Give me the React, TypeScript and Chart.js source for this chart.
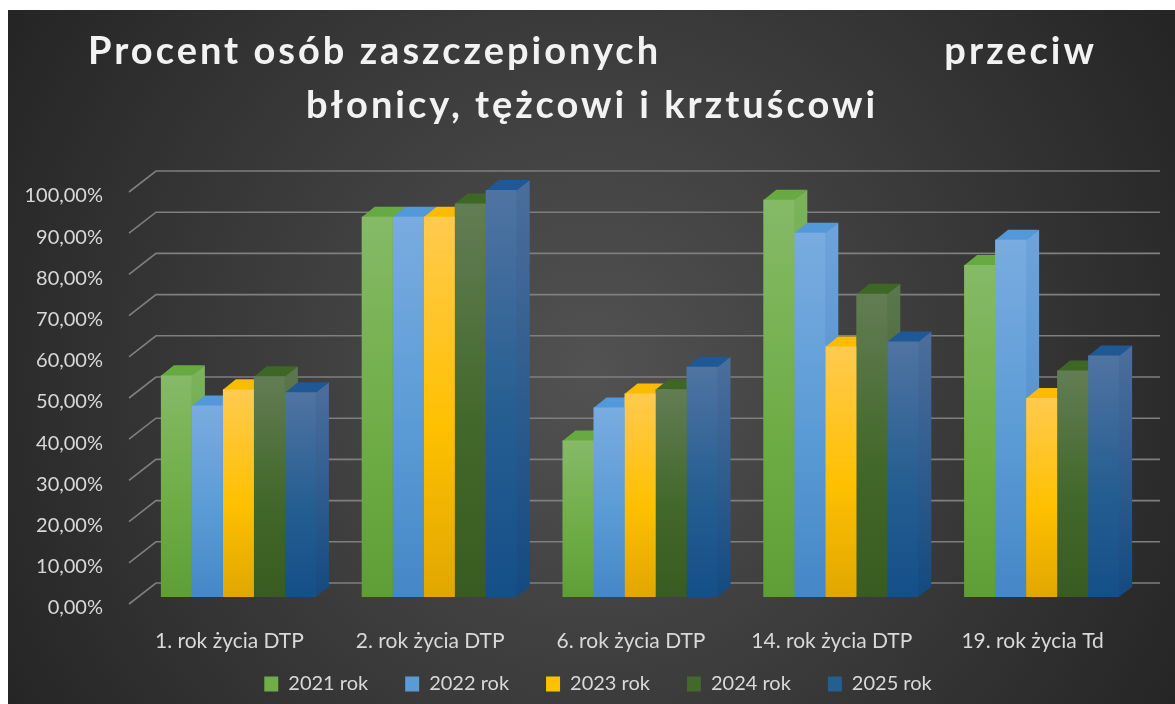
import React, { useEffect, useRef } from "react";
import { Chart, registerables } from "chart.js";

Chart.register(...registerables);

// ---------- data ----------
const categories = [
  "1. rok życia DTP",
  "2. rok życia DTP",
  "6. rok życia DTP",
  "14. rok życia DTP",
  "19. rok życia Td",
];
const seriesNames = ["2021 rok", "2022 rok", "2023 rok", "2024 rok", "2025 rok"];
const values2021 = [53.8, 92.3, 38.0, 96.4, 80.6];
const values2022 = [46.5, 92.3, 46.0, 88.4, 86.7];
const values2023 = [50.4, 92.3, 49.4, 60.8, 48.3];
const values2024 = [53.6, 95.5, 50.4, 73.6, 55.0];
const values2025 = [49.7, 98.8, 55.9, 62.0, 58.6];
const yTickLabels = [
  "0,00%", "10,00%", "20,00%", "30,00%", "40,00%", "50,00%",
  "60,00%", "70,00%", "80,00%", "90,00%", "100,00%",
];
const titleLine1Left = "Procent osób zaszczepionych";
const titleLine1Right = "przeciw";
const titleLine2 = "błonicy, tężcowi i krztuścowi";

// ---------- styles ----------
const seriesStyles = [
  { light: "#85ba67", base: "#70ad47", dark: "#5f9e36", top: "#68aa42", side: ["#7ab35b", "#599632"] },
  { light: "#79ace0", base: "#5b9bd5", dark: "#4587c7", top: "#5399da", side: ["#6ea3da", "#4282c0"] },
  { light: "#ffca4f", base: "#ffc000", dark: "#e0a700", top: "#fbbc00", side: ["#f5c24a", "#d6a000"] },
  { light: "#627d54", base: "#43682b", dark: "#385b21", top: "#3e6725", side: ["#5a764c", "#33541e"] },
  { light: "#5074a2", base: "#255e91", dark: "#154f88", top: "#1f5894", side: ["#4a6d9b", "#144a80"] },
];
const seriesValues = [values2021, values2022, values2023, values2024, values2025];

const DEPTH_X = 13;
const DEPTH_Y = -10;
const BACK_X = 18;
const BACK_Y = -14;
const FRONT_X = -9;
const FRONT_Y = 7;
const FONT = "Lato, 'Open Sans', sans-serif";

const bgPlugin = {
  id: "bg3d",
  afterLayout(chart: any) {
    // widen the label clip areas so the offset tick labels are not cut
    if (chart.scales.y) chart.scales.y.left = 0;
    if (chart.scales.x) chart.scales.x.bottom = chart.height;
  },
  beforeDraw(chart: any) {
    const { ctx, width, height } = chart;
    ctx.save();
    const cx = width * 0.5;
    const cy = height * 0.52;
    const g = ctx.createRadialGradient(cx, cy, 0, cx, cy, 720);
    g.addColorStop(0, "#525252");
    g.addColorStop(1, "#222222");
    ctx.fillStyle = g;
    ctx.fillRect(0, 0, width, height);
    ctx.restore();
  },
};

const gridAndDepthPlugin = {
  id: "grid3d",
  beforeDatasetsDraw(chart: any) {
    const { ctx, chartArea, scales } = chart;
    const ys = scales.y;
    ctx.save();
    ctx.strokeStyle = "#7f7f7f";
    ctx.lineWidth = 1.6;
    ys.ticks.forEach((t: any) => {
      const y = ys.getPixelForValue(t.value);
      ctx.beginPath();
      ctx.moveTo(chartArea.left + FRONT_X, y + FRONT_Y);
      ctx.lineTo(chartArea.left + BACK_X, y + BACK_Y);
      ctx.lineTo(chartArea.right + BACK_X, y + BACK_Y);
      ctx.stroke();
    });
    const nCat = categories.length;
    for (let i = 0; i < nCat; i++) {
      for (let d = 0; d < seriesValues.length; d++) {
        const meta = chart.getDatasetMeta(d);
        const el = meta.data[i];
        if (!el) continue;
        const p = el.getProps(["x", "y", "base", "width"], true);
        const left = p.x - p.width / 2;
        const right = p.x + p.width / 2;
        const top = p.y;
        const bottom = p.base;
        const st = seriesStyles[d];
        const sg = ctx.createLinearGradient(0, top, 0, bottom);
        sg.addColorStop(0, st.side[0]);
        sg.addColorStop(1, st.side[1]);
        ctx.fillStyle = sg;
        ctx.beginPath();
        ctx.moveTo(right - 0.5, top);
        ctx.lineTo(right + DEPTH_X, top + DEPTH_Y);
        ctx.lineTo(right + DEPTH_X, bottom + DEPTH_Y);
        ctx.lineTo(right - 0.5, bottom);
        ctx.closePath();
        ctx.fill();
        ctx.fillStyle = st.top;
        ctx.beginPath();
        ctx.moveTo(left, top + 0.5);
        ctx.lineTo(right, top + 0.5);
        ctx.lineTo(right + DEPTH_X, top + DEPTH_Y);
        ctx.lineTo(left + DEPTH_X, top + DEPTH_Y);
        ctx.closePath();
        ctx.fill();
      }
    }
    ctx.restore();
  },
};

const titlePlugin = {
  id: "title3d",
  afterDraw(chart: any) {
    const { ctx } = chart;
    ctx.save();
    ctx.fillStyle = "#f2f2f2";
    ctx.font = `bold 38px ${FONT}`;
    try {
      (ctx as any).letterSpacing = "3px";
    } catch (e) {}
    ctx.textBaseline = "alphabetic";
    ctx.textAlign = "left";
    ctx.fillText(titleLine1Left, 80, 54);
    ctx.textAlign = "right";
    ctx.fillText(titleLine1Right, 1089, 54);
    ctx.textAlign = "center";
    ctx.fillText(titleLine2, 584, 108);
    ctx.restore();
  },
};

export default function App() {
  const canvasRef = useRef<HTMLCanvasElement | null>(null);

  useEffect(() => {
    const canvas = canvasRef.current;
    if (!canvas) return;

    const datasets = seriesNames.map((name, d) => {
      const st = seriesStyles[d];
      return {
        label: name,
        data: seriesValues[d],
        borderWidth: 0,
        categoryPercentage: 0.772,
        barPercentage: 1.0,
        backgroundColor: (c: any) => {
          if (c.type !== "data" || !c.chart.scales || !c.chart.scales.y || !c.parsed) return st.base;
          const ys = c.chart.scales.y;
          const top = ys.getPixelForValue(c.parsed.y);
          const bottom = ys.getPixelForValue(0);
          if (!isFinite(top) || !isFinite(bottom) || top === bottom) return st.base;
          const g = c.chart.ctx.createLinearGradient(0, top, 0, bottom);
          g.addColorStop(0, st.light);
          g.addColorStop(0.55, st.base);
          g.addColorStop(1, st.dark);
          return g;
        },
      };
    });

    const chart = new Chart(canvas, {
      type: "bar",
      data: { labels: categories, datasets },
      plugins: [bgPlugin, gridAndDepthPlugin, titlePlugin],
      options: {
        animation: false,
        responsive: false,
        devicePixelRatio: 1,
        layout: { padding: { left: 46, right: 33, top: 175, bottom: 0 } },
        scales: {
          x: {
            grid: { display: false, drawTicks: false },
            border: { display: false },
            ticks: {
              color: "#d9d9d9",
              font: { family: FONT, size: 21 },
              padding: 32,
              labelOffset: -9,
              maxRotation: 0,
              autoSkip: false,
            },
            afterFit: (s: any) => {
              s.height = 40;
            },
          },
          y: {
            min: 0,
            max: 100,
            grid: { display: false, drawTicks: false },
            border: { display: false },
            ticks: {
              stepSize: 10,
              color: "#d9d9d9",
              font: { family: FONT, size: 20 },
              padding: 35,
              labelOffset: 11,
              callback: (_v: any, i: number) => yTickLabels[i],
            },
            afterFit: (s: any) => {
              s.width = 84;
            },
          },
        },
        plugins: {
          title: { display: false },
          tooltip: { enabled: false },
          legend: {
            display: true,
            position: "bottom",
            labels: {
              color: "#d9d9d9",
              font: { family: FONT, size: 20 },
              boxWidth: 14,
              boxHeight: 15,
              padding: 37,
              generateLabels: (ch: any) =>
                ch.data.datasets.map((ds: any, i: number) => ({
                  text: ds.label,
                  fillStyle: seriesStyles[i].base,
                  strokeStyle: "rgba(0,0,0,0)",
                  lineWidth: 0,
                  fontColor: "#d9d9d9",
                  hidden: false,
                  datasetIndex: i,
                })),
            },
          },
        },
      },
    } as any);

    return () => chart.destroy();
  }, []);

  return (
    <div style={{ position: "fixed", left: 8, top: 10, width: 1167, height: 694 }}>
      <canvas ref={canvasRef} width={1167} height={694} style={{ display: "block" }} />
    </div>
  );
}
